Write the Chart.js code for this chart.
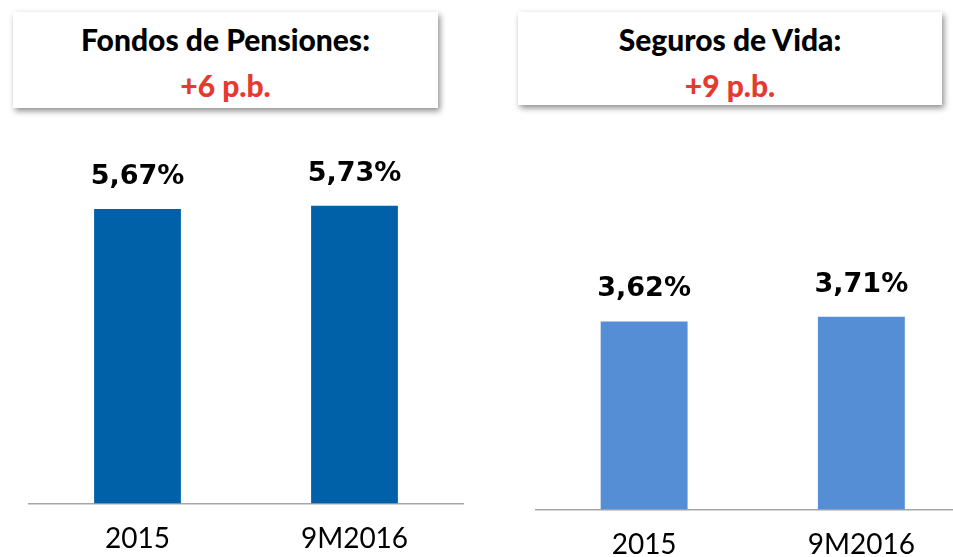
<!DOCTYPE html>
<html>
<head>
<meta charset="utf-8">
<script src="https://cdn.jsdelivr.net/npm/chart.js@4.4.1/dist/chart.umd.min.js"></script>
<style>
  html, body { margin: 0; padding: 0; background: #fff; overflow: hidden; }
  #wrap { position: relative; width: 953px; height: 557px; overflow: hidden; }
  canvas { position: absolute; }
  .box {
    position: absolute; background: #fff; text-align: center;
    box-shadow: 2px 3px 6px rgba(0,0,0,0.45);
    font-family: Lato, sans-serif; font-weight: 900;
  }
  .box .t1 { color: #000; font-size: 30px; line-height: 30px; margin-top: 12px; }
  .box .t2 { color: #E53A2F; font-size: 30px; line-height: 30px; margin-top: 16px; }
</style>
</head>
<body>
<div id="wrap">
  <div class="box" style="left:13px; top:12px; width:425px; height:96px;">
    <div class="t1">Fondos de Pensiones:</div>
    <div class="t2">+6 p.b.</div>
  </div>
  <div class="box" style="left:518px; top:12px; width:424px; height:93px;">
    <div class="t1">Seguros de Vida:</div>
    <div class="t2">+9 p.b.</div>
  </div>
  <canvas id="pensiones" width="476" height="575" style="left:0; top:0;"></canvas>
  <canvas id="vida" width="480" height="575" style="left:500px; top:6px;"></canvas>
</div>
<script>
// Datos
const periodos = ['2015', '9M2016'];
const fondosPensiones = [5.67, 5.73];
const segurosVida = [3.62, 3.71];

// Etiquetas de valor sobre cada barra
const etiquetasValor = {
    id: 'etiquetasValor',
    afterDatasetsDraw(chart) {
        const ctx = chart.ctx;
        ctx.save();
        ctx.font = 'bold 27px "DejaVu Sans"';
        ctx.fillStyle = '#000';
        ctx.textAlign = 'center';
        ctx.textBaseline = 'alphabetic';
        chart.getDatasetMeta(0).data.forEach((bar, i) => {
            const v = chart.data.datasets[0].data[i];
            ctx.fillText(v.toFixed(2).replace('.', ',') + '%', bar.x, bar.y - 25);
        });
        ctx.restore();
    }
};

function crearGrafico(id, valores, color, padIzq, padDer) {
    return new Chart(document.getElementById(id), {
        type: 'bar',
        data: {
            labels: periodos,
            datasets: [{
                data: valores,
                backgroundColor: color,
                categoryPercentage: 0.8,
                barPercentage: 0.5,
            }],
        },
        options: {
            responsive: false,
            animation: false,
            layout: { padding: { left: padIzq, right: padDer, top: 88, bottom: 0 } },
            plugins: { legend: { display: false }, tooltip: { enabled: false } },
            scales: {
                x: {
                    grid: { display: false, drawTicks: false },
                    border: { display: true, color: '#A6A6A6', width: 1.5 },
                    ticks: { color: '#000', padding: 19, font: { family: 'Lato', size: 28 } },
                },
                y: { display: false, min: 0, max: 8 },
            },
        },
        plugins: [etiquetasValor],
    });
}

crearGrafico('pensiones', fondosPensiones, '#0060A8', 29, 13);
crearGrafico('vida', segurosVida, '#558ED5', 35.5, 10);
</script>
</body>
</html>
